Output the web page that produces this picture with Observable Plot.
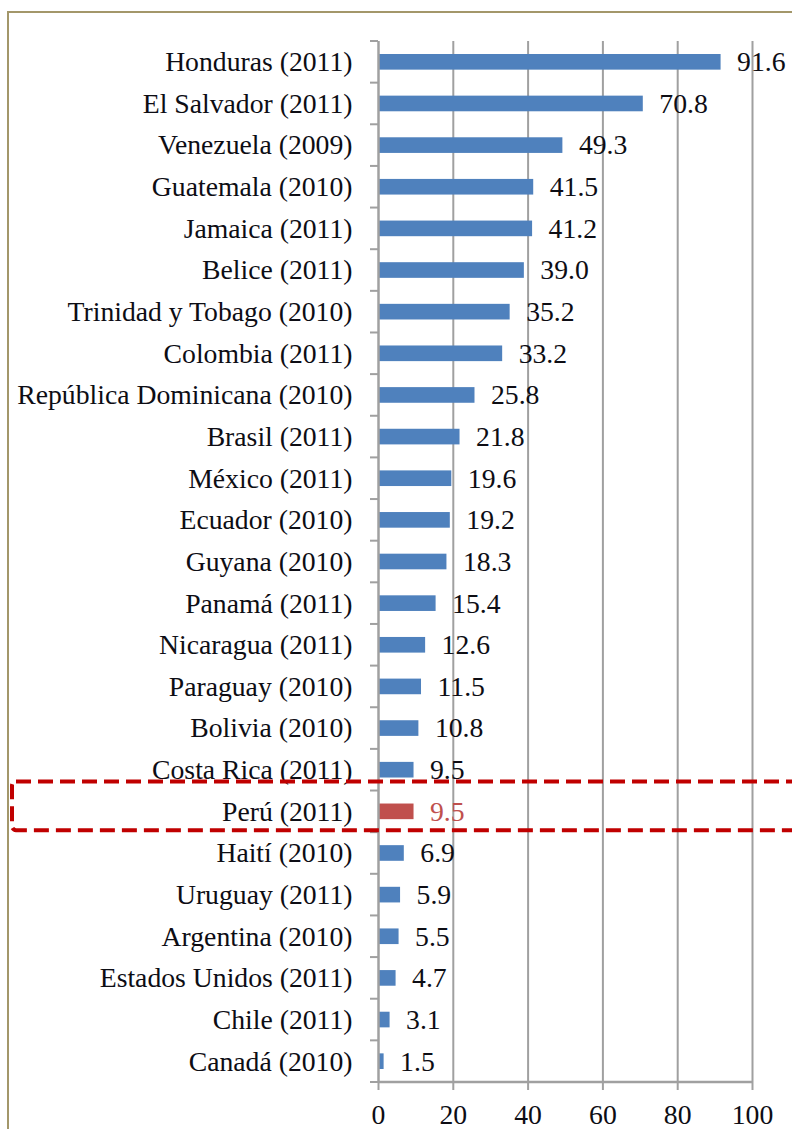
<!DOCTYPE html>
<html><head><meta charset="utf-8">
<script src="https://cdn.jsdelivr.net/npm/d3@7"></script>
<script src="https://cdn.jsdelivr.net/npm/@observablehq/plot@0.6"></script>
<style>body{margin:0;background:#fff} svg{display:block}</style>
</head><body><div id="chart"></div>
<script>
const countries = [
  "Honduras (2011)", "El Salvador (2011)", "Venezuela (2009)", "Guatemala (2010)",
  "Jamaica (2011)", "Belice (2011)", "Trinidad y Tobago (2010)", "Colombia (2011)",
  "República Dominicana (2010)", "Brasil (2011)", "México (2011)", "Ecuador (2010)",
  "Guyana (2010)", "Panamá (2011)", "Nicaragua (2011)", "Paraguay (2010)",
  "Bolivia (2010)", "Costa Rica (2011)", "Perú (2011)", "Haití (2010)",
  "Uruguay (2011)", "Argentina (2010)", "Estados Unidos (2011)", "Chile (2011)",
  "Canadá (2010)"
];
const values = [91.6, 70.8, 49.3, 41.5, 41.2, 39.0, 35.2, 33.2, 25.8, 21.8, 19.6, 19.2,
  18.3, 15.4, 12.6, 11.5, 10.8, 9.5, 9.5, 6.9, 5.9, 5.5, 4.7, 3.1, 1.5];
const highlight = "Perú (2011)";
const xTicks = [0, 20, 40, 60, 80, 100];

const data = countries.map((c, i) => ({country: c, value: values[i]}));
const W = 792, H = 1129, mL = 378, mR = 40, mT = 41, mB = 47;
const font = "'Liberation Serif', 'Times New Roman', serif";
const fs = 27.7;
const blue = "#4f81bd", red = "#c0504d", grid = "#a0a0a0", ink = "#0d0d14";
const isHi = d => d.country === highlight;

const chart = Plot.plot({
  width: W, height: H,
  marginLeft: mL, marginRight: mR, marginTop: mT, marginBottom: mB,
  style: {fontFamily: font, fontSize: fs + "px", color: ink, background: "#fff", overflow: "visible"},
  x: {domain: [0, 100], ticks: xTicks, label: null},
  y: {domain: countries, padding: 0, round: false, label: null},
  marks: [
    Plot.ruleX(xTicks.slice(1), {stroke: grid, strokeWidth: 2}),
    Plot.barX(data, {filter: d => !isHi(d), x: "value", y: "country", fill: blue, insetTop: 13, insetBottom: 13}),
    Plot.barX(data, {filter: isHi, x: "value", y: "country", fill: red, insetTop: 13, insetBottom: 13}),
    Plot.text(data, {filter: d => !isHi(d), x: "value", y: "country", text: d => d.value.toFixed(1), textAnchor: "start", dx: 16, fill: ink, fontSize: fs}),
    Plot.text(data, {filter: isHi, x: "value", y: "country", text: d => d.value.toFixed(1), textAnchor: "start", dx: 16, fill: red, fontSize: fs}),
    Plot.ruleX([0], {stroke: grid, strokeWidth: 2.5}),
    Plot.axisX({ticks: xTicks, tickSize: 8, tickPadding: 14, stroke: grid, strokeWidth: 2, fill: ink, tickFormat: d => String(d), fontSize: fs, label: null}),
    Plot.axisY({tickSize: 0, tickPadding: 26, fill: ink, fontSize: fs, label: null})
  ]
});

const svg = d3.select(chart);
const ys = chart.scale("y");
const xs = chart.scale("x");
const step = ys.step;
const g = svg.append("g");

// band boundary ticks on the category axis
const bounds = countries.map(c => ys.apply(c)).concat([ys.apply(countries[countries.length - 1]) + step]);
g.selectAll("line.bt").data(bounds).join("line")
  .attr("x1", xs.apply(0) - 8).attr("x2", xs.apply(0))
  .attr("y1", d => d).attr("y2", d => d)
  .attr("stroke", grid).attr("stroke-width", 2);

// bottom axis line
g.append("line")
  .attr("x1", xs.apply(0)).attr("x2", xs.apply(100))
  .attr("y1", H - mB).attr("y2", H - mB)
  .attr("stroke", grid).attr("stroke-width", 2.5);

// outer frame (top and left visible)
g.append("path")
  .attr("d", `M8,${H + 5}V12H${W + 5}`)
  .attr("fill", "none").attr("stroke", "#a3976a").attr("stroke-width", 2);

// dashed highlight box around Perú
const yHi = ys.apply(highlight);
g.append("rect")
  .attr("x", 12).attr("y", yHi - 9)
  .attr("width", W + 20).attr("height", ys.bandwidth + 7)
  .attr("rx", 4)
  .attr("fill", "none").attr("stroke", "#c00000").attr("stroke-width", 4)
  .attr("stroke-dasharray", "15 7");

document.getElementById("chart").appendChild(chart);
</script>
</body></html>
